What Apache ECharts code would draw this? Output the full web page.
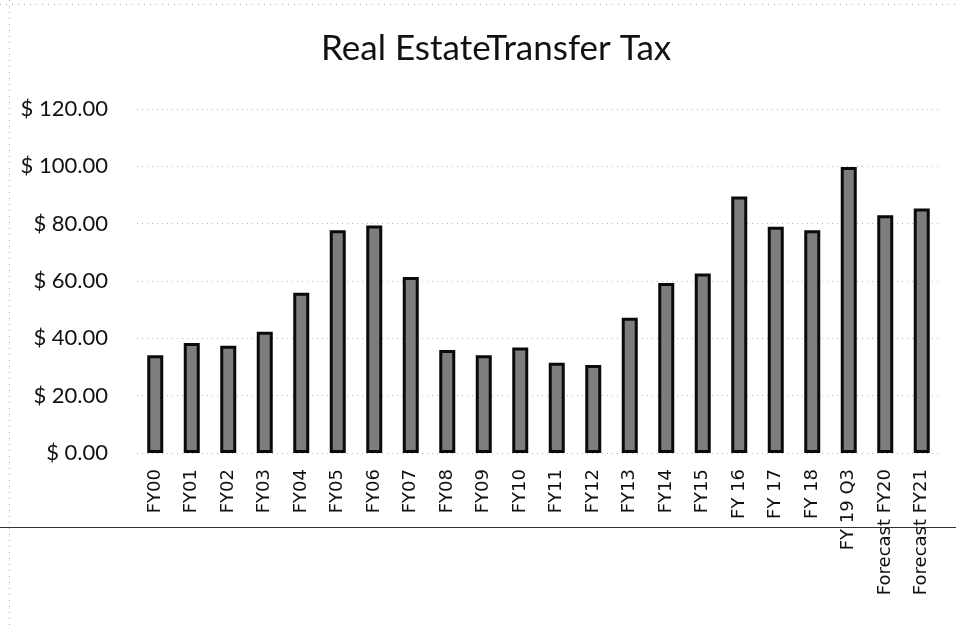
<!DOCTYPE html>
<html>
<head>
<meta charset="utf-8">
<script src="https://cdn.jsdelivr.net/npm/echarts@6/dist/echarts.min.js"></script>
<style>
html,body{margin:0;padding:0;background:#fff;}
#chart{width:956px;height:626px;}
</style>
</head>
<body>
<div id="chart"></div>
<script>
var titleText = 'Real EstateTransfer Tax';
var categories = ['FY00','FY01','FY02','FY03','FY04','FY05','FY06','FY07','FY08','FY09','FY10','FY11','FY12','FY13','FY14','FY15','FY 16','FY 17','FY 18','FY 19 Q3','Forecast FY20','Forecast FY21'];
var values = [34.1, 38.4, 37.4, 42.3, 55.9, 77.7, 79.4, 61.4, 35.9, 34.1, 36.8, 31.5, 30.7, 47.2, 59.3, 62.6, 89.5, 78.9, 77.7, 99.8, 82.9, 85.3];
var yMin = 0, yMax = 120, yStep = 20;

var chart = echarts.init(document.getElementById('chart'), null, {renderer:'canvas'});
chart.setOption({
  backgroundColor:'#fff',
  animation:false,
  title:{
    text:titleText, left:316, top:26,
    textStyle:{fontFamily:'Lato', fontSize:35, fontWeight:'normal', color:'#111'}
  },
  grid:{left:137, right:16, top:109, bottom:173, containLabel:false},
  xAxis:{
    type:'category', data:categories,
    axisLine:{show:false}, axisTick:{show:false},
    axisLabel:{rotate:90, margin:16, interval:0, fontFamily:"'DejaVu Sans', Verdana, sans-serif", fontSize:18, color:'#111'}
  },
  yAxis:{
    type:'value', min:yMin, max:yMax, interval:yStep,
    axisLine:{show:false}, axisTick:{show:false},
    axisLabel:{margin:29, fontFamily:'Lato', fontSize:22, color:'#111',
      formatter:function(v){return '$ ' + v.toFixed(2);}},
    splitLine:{show:true, lineStyle:{color:'#b5b5b5', type:[1,4], width:1}}
  },
  series:[{
    type:'bar', data:values, barWidth:16,
    itemStyle:{color:'#7d7d7d', borderColor:'#0a0a0a', borderWidth:3}
  }],
  graphic:[
    {type:'line', shape:{x1:0,y1:4.5,x2:956,y2:4.5}, style:{stroke:'#aaa', lineDash:[1,5], lineWidth:1}, z:-1},
    {type:'line', shape:{x1:9.5,y1:0,x2:9.5,y2:626}, style:{stroke:'#aaa', lineDash:[1,5], lineWidth:1}, z:-1},
    {type:'line', shape:{x1:0,y1:527.5,x2:956,y2:527.5}, style:{stroke:'#333', lineWidth:1}, z:-1}
  ]
});
</script>
</body>
</html>
